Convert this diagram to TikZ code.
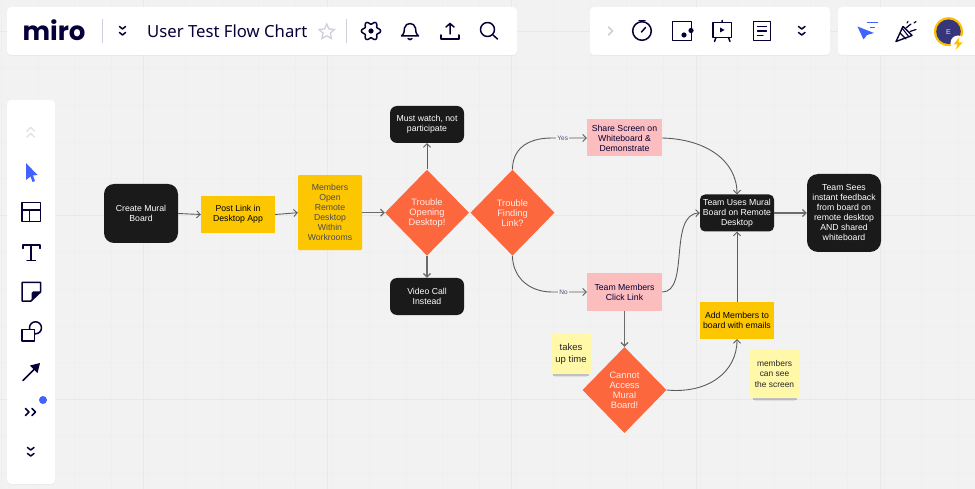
\documentclass[tikz,border=0pt]{standalone}
\usepackage{fontspec}
\setmainfont{Liberation Sans}
\newfontfamily\titlefont{Noto Sans}
\newfontfamily\logofont{Poppins}
\usepackage{xcolor}
\usetikzlibrary{shapes, shapes.geometric, arrows.meta, positioning, calc, shadows}

\definecolor{canvasgray}{HTML}{F2F2F2}
\definecolor{gridminor}{HTML}{EFEFEF}
\definecolor{gridmajor}{HTML}{E8E8E8}
\definecolor{navy}{HTML}{050038}
\definecolor{boxblack}{HTML}{1A1A1A}
\definecolor{boxyellow}{HTML}{FCC600}
\definecolor{boxpink}{HTML}{FBBDBD}
\definecolor{boxorange}{HTML}{FC673D}
\definecolor{stickyyellow}{HTML}{FEF8A8}
\definecolor{miroblue}{HTML}{4262FF}
\definecolor{wiregray}{HTML}{5C5C5C}
\definecolor{faintnavy}{HTML}{CFCFDC}

\tikzset{
  >={Straight Barb[length=3.5pt, width=7pt]},
  labeltext/.style={font=\fontsize{8.7}{10}\selectfont, align=center, inner sep=0pt},
  blackbox/.style={labeltext, draw=none, fill=boxblack, text=white, rounded corners=7pt, minimum width=74pt, minimum height=37pt},
  yellowbox/.style={labeltext, fill=boxyellow, text=black, minimum width=74pt, minimum height=37pt},
  pinkbox/.style={labeltext, fill=boxpink, text=navy, minimum width=75pt, minimum height=37pt},
  choice/.style={labeltext, font=\fontsize{9.3}{10}\selectfont, diamond, aspect=1, fill=boxorange, text=white!88!boxorange, minimum width=84pt, minimum height=86pt},
  sticky/.style={labeltext, fill=stickyyellow, text=black!85},
  wire/.style={wiregray, line width=0.9pt},
  heavywire/.style={wire, black!58, line width=1.2pt},
  wiretag/.style={font=\fontsize{6.5}{7}\selectfont, text=navy!70, fill=canvasgray, inner sep=1pt},
  panel/.style={fill=white, rounded corners=4pt, drop shadow={opacity=0.07, shadow xshift=0pt, shadow yshift=-1pt}},
  icon/.style={navy, line width=1.5pt, line join=round, line cap=round},
  fainticon/.style={faintnavy, line width=1.5pt, line join=round, line cap=round}
}

\begin{document}
\begin{tikzpicture}[x=1pt, y=-1pt]
  \fill[canvasgray] (0,0) rectangle (975,489);
  \useasboundingbox (0,0) rectangle (975,489);

  % board grid
  \foreach \x in {0,...,26} \draw[gridminor, line width=0.7pt] ({1.2+36.8*\x},0) -- ({1.2+36.8*\x},489);
  \foreach \y in {0,...,13} \draw[gridminor, line width=0.7pt] (0,{31.5+36.8*(\y-0)}) -- (975,{31.5+36.8*(\y-0)});
  \foreach \x in {143,327,511,696,880} \draw[gridmajor, line width=0.9pt] (\x,0) -- (\x,489);
  \foreach \y in {31.5,215.5,399.5} \draw[gridmajor, line width=0.9pt] (0,\y) -- (975,\y);

  % flow chart
  \node[blackbox, rounded corners=10pt, minimum height=59pt] (create) at (141,213.5) {Create Mural\\Board};
  \node[yellowbox] (post) at (238,214.5) {Post Link in\\Desktop App};
  \node[yellowbox, rounded corners=1pt, minimum width=64pt, minimum height=75pt, text=black!70] (members) at (330,212.7) {Members\\Open\\Remote\\Desktop\\Within\\Workrooms};
  \node[choice] (opening) at (427,212.7) {Trouble\\Opening\\Desktop!};
  \node[choice] (finding) at (512.5,212.7) {Trouble\\Finding\\Link?};
  \node[blackbox] (watch) at (427,124.5) {Must watch, not\\participate};
  \node[blackbox] (video) at (427,296.5) {Video Call\\Instead};
  \node[pinkbox] (share) at (624.5,138) {Share Screen on\\Whiteboard \&\\Demonstrate};
  \node[pinkbox] (click) at (624.5,292) {Team Members\\Click Link};
  \node[blackbox, rounded corners=5pt] (uses) at (737,213) {Team Uses Mural\\Board on Remote\\Desktop};
  \node[blackbox, rounded corners=11pt, minimum height=78pt] (sees) at (844,213) {Team Sees\\instant feedback\\from board on\\remote desktop\\AND shared\\whiteboard};
  \node[yellowbox] (add) at (737,320.5) {Add Members to\\board with emails};
  \node[choice] (access) at (624.5,390) {Cannot\\Access\\Mural\\Board!};

  % sticky notes, shadow first
  \fill[black, opacity=0.2] (553,374) rectangle (589,375.5);
  \fill[black, opacity=0.08] (555,375.5) rectangle (587,377);
  \fill[black, opacity=0.2] (753,398) rectangle (797,399.5);
  \fill[black, opacity=0.08] (755,399.5) rectangle (795,401);
  \node[sticky, font=\fontsize{9.5}{12}\selectfont, minimum width=40pt, minimum height=40pt] (takes) at (571,354) {takes\\up time};
  \node[sticky, font=\fontsize{8.4}{10.5}\selectfont, minimum width=49pt, minimum height=49pt] (see) at (774.5,373.5) {members\\can see\\the screen};

  \coordinate (yesbend) at (552,138);
  \coordinate (nobend) at (552,292);

  \draw[wire, ->] (create.east) -- (post.west);
  \draw[wire, ->] (post.east) -- (members.west);
  \draw[heavywire, ->] (members.east) -- (opening.west);
  \draw[wire, ->] (opening.north) -- (watch.south);
  \draw[heavywire, ->] (opening.south) -- (video.north);
  \draw[wire, ->] (finding.north) .. controls (512.5,150) and (526,138) .. (yesbend) -- (share.west) node[wiretag, pos=0.31] (yes) {Yes};
  \draw[wire, ->] (finding.south) .. controls (512.5,276) and (528,292) .. (nobend) -- (click.west) node[wiretag, pos=0.33] (no) {No};
  \draw[wire, ->] (share.east) .. controls (705,139) and (737,160) .. (uses.north);
  \draw[wire, ->] (click.east) .. controls (690,292) and (668,214) .. (uses.west);
  \draw[wire, ->] (add.north) -- (uses.south);
  \draw[heavywire, ->] (click.south) -- (access.north);
  \draw[wire, ->] (access.east) .. controls (708,394) and (737,372) .. (add.south);
  \draw[heavywire, ->] (uses.east) -- (sees.west);

  % top left bar
  \fill[panel] (7,7) rectangle (517,55);
  \node[font=\logofont\bfseries\fontsize{26}{26}\selectfont, text=navy, inner sep=0pt] (logo) at (54,30) {miro};
  \draw[faintnavy, line width=0.7pt] (102,19) -- (102,43);
  \draw[faintnavy, line width=0.7pt] (346.5,19) -- (346.5,43);
  \draw[icon] (119.5,26.5) -- (122.5,29) -- (125.5,26.5) (119.5,32.5) -- (122.5,35) -- (125.5,32.5);
  \node[font=\titlefont\fontsize{16.7}{18}\selectfont, text=navy, anchor=west, inner sep=0pt] (title) at (147,31) {User Test Flow Chart};
  \node[star, star points=5, star point ratio=2.1, draw=faintnavy, line width=1.3pt, minimum size=16pt, inner sep=0pt] (favstar) at (326.7,32) {};
  \draw[icon, domain=0:360, samples=73, smooth, variable=\t] plot ({371+(8.2+1.4*cos(6*\t))*cos(\t)}, {31+(8.2+1.4*cos(6*\t))*sin(\t)}) -- cycle;
  \fill[navy] (371,31) circle [radius=2.6];
  \draw[icon] (401.5,36) .. controls (405,33) and (404,30) .. (404.5,28) .. controls (405.5,22) and (414.5,22) .. (415.5,28) .. controls (416,30) and (415,33) .. (418.5,36) -- cycle;
  \draw[icon] (408,38.5) .. controls (409,40) and (411,40) .. (412,38.5);
  \draw[icon] (441,35) -- (441,39) -- (459,39) -- (459,35);
  \draw[icon] (450,34) -- (450,23.5) (446,27) -- (450,23.5) -- (454,27);
  \draw[icon] (487.5,29.5) circle [radius=7];
  \draw[icon] (493,35) -- (497.5,39);

  % top middle bar
  \fill[panel] (590,7) rectangle (830,55);
  \draw[fainticon] (608.5,27) -- (612.5,31) -- (608.5,35);
  \draw[icon] (642,31) circle [radius=9.3];
  \draw[icon] (639,20.5) -- (645,20.5);
  \draw[icon] (641.5,32) -- (645.5,27.5);
  \draw[icon] (672.5,21.5) rectangle (691.5,40.5);
  \fill[navy] (684,35) circle [radius=2.6] (691,30.5) circle [radius=2.6];
  \draw[icon] (713,22.5) rectangle (731.5,37.5);
  \draw[icon] (722,20.5) -- (722,22.5) (716,37.5) -- (714.5,41.5) (728.5,37.5) -- (730,41.5);
  \fill[navy] (720,27.5) -- (724.5,30) -- (720,32.5) -- cycle;
  \draw[icon] (753.5,21.7) rectangle (770.5,40.7);
  \draw[icon, line width=1.3pt] (757.5,26.5) -- (766.5,26.5) (757.5,31) -- (766.5,31) (757.5,35.5) -- (763,35.5);
  \draw[icon] (798.5,26.5) -- (801.7,29) -- (805,26.5) (798.5,32.5) -- (801.7,35) -- (805,32.5);

  % top right bar
  \fill[panel] (838,7) rectangle (985,55);
  \fill[miroblue] (857.5,26.5) -- (874,33) -- (867,35) -- (863.5,39.5) -- cycle;
  \draw[miroblue, line width=1.5pt] (867,22.7) -- (877.5,22.7) (870,27.5) -- (875,27.5);
  \draw[icon, line width=1.4pt] (896,41.5) -- (903,26.5) -- (912,35.5) -- cycle;
  \draw[icon, line width=1.1pt] (900,33) -- (906,39) (902,28) -- (909,37);
  \draw[icon, line width=1.2pt] (906,28) -- (911,24) (910,31.5) -- (916,29.5) (907,23) -- (908,21.5) (914,23) -- (916,21.5);
  \fill[boxyellow!90!orange] (948.5,31.7) circle [radius=14.5];
  \fill[gray!60!blue!70!black] (948.5,31.7) circle [radius=12.3];
  \node[font=\fontsize{7}{7}\selectfont, text=white!80!gray, inner sep=0pt] (avatarletter) at (948.5,31.7) {E};
  \fill[white] (958,43) circle [radius=7.5];
  \fill[boxyellow!90!orange] (959.5,37) -- (953.5,44.5) -- (957.5,44.5) -- (955.5,50) -- (962.5,42.5) -- (958.5,42.5) -- cycle;

  % left tool bar
  \fill[panel] (7,100) rectangle (55,484);
  \draw[gray!20, line width=1.5pt, line cap=round, line join=round] (27,131) -- (30.7,127.5) -- (34.4,131) (27,137) -- (30.7,133.5) -- (34.4,137);
  \fill[miroblue] (26,163) -- (37.5,175) -- (33,175.5) -- (35,181) -- (32.5,182) -- (30.5,176.5) -- (26,180) -- cycle;
  \draw[icon] (22,202.5) rectangle (40.3,221.5);
  \draw[icon] (22,210) -- (40.3,210) (29.5,210) -- (29.5,221.5);
  \draw[icon] (22.8,248.5) -- (22.8,245) -- (39.8,245) -- (39.8,248.5) (31.2,245) -- (31.2,260.5) (27,260.5) -- (35.5,260.5);
  \draw[icon] (31,301) -- (22,301) -- (22,282.5) -- (40.5,282.5) -- (40.5,292) -- (31,301);
  \fill[navy] (40.5,291.5) -- (33,291.5) -- (31.5,293) -- (31.5,301) -- cycle;
  \draw[icon] (35.5,327.8) circle [radius=6];
  \draw[icon, fill=white] (22,329.5) rectangle (34.3,341);
  \draw[icon] (23,380.5) -- (35,368.5);
  \fill[navy] (40,363) -- (37.5,373) -- (30,365.5) -- cycle;
  \draw[icon] (25.5,408.5) -- (29,412) -- (25.5,415.5) (32,408.5) -- (35.5,412) -- (32,415.5);
  \fill[miroblue] (43,400) circle [radius=4];
  \draw[icon] (27.5,447.5) -- (30.7,450) -- (34,447.5) (27.5,453.5) -- (30.7,456) -- (34,453.5);
\end{tikzpicture}
\end{document}
